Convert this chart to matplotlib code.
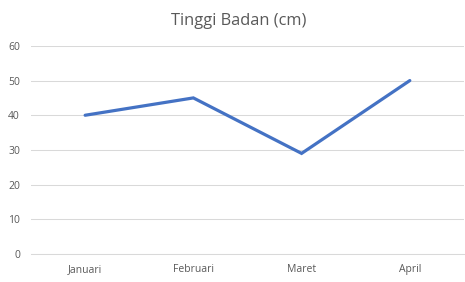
import matplotlib
matplotlib.use("Agg")
import matplotlib.pyplot as plt

# data
bulan = ["Januari", "Februari", "Maret", "April"]
tinggi = [40, 45, 29, 50]
y_ticks = [0, 10, 20, 30, 40, 50, 60]

plt.rcParams["font.family"] = ["Open Sans", "DejaVu Sans"]

fig = plt.figure(figsize=(4.65, 2.82), dpi=100)
ax = fig.add_axes([0.0667, 0.0993, 0.931, 0.738])

x = list(range(len(bulan)))
ax.plot(x, tinggi, color="#4472C4", linewidth=2.3, solid_joinstyle="miter", solid_capstyle="round", zorder=3)

ax.set_xlim(-0.5, len(bulan) - 0.5)
ax.set_ylim(0, 60)
ax.set_yticks(y_ticks)
ax.set_xticks(x)
ax.set_xticklabels(bulan)

ax.grid(True, axis="y", color="#D9D9D9", linewidth=0.75)
ax.set_axisbelow(True)
for s in ["top", "right", "left"]:
    ax.spines[s].set_visible(False)
ax.spines["bottom"].set_color("#D9D9D9")
ax.spines["bottom"].set_linewidth(0.75)
ax.tick_params(axis="both", length=0, labelsize=7.5, labelcolor="#595959")
ax.tick_params(axis="x", pad=7)
ax.tick_params(axis="y", pad=8)

fig.suptitle("Tinggi Badan (cm)", x=0.513, y=0.955, fontsize=11.8, color="#595959")

fig.savefig("out.png", dpi=100)
